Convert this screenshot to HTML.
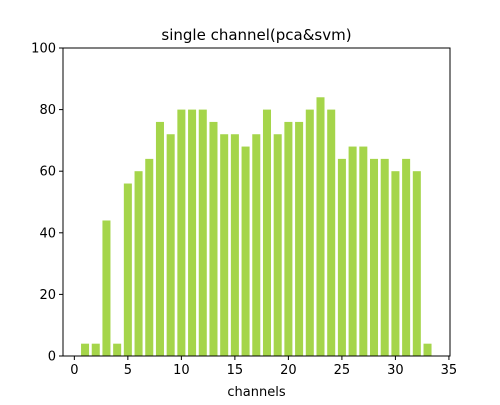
<!DOCTYPE html>
<html><head><meta charset="utf-8"><style>
body{margin:0;background:#fff}
svg text{font-family:"DejaVu Sans","Liberation Sans",sans-serif;fill:#000}
</style></head><body>
<svg id="c" width="500" height="400"></svg>
<script>
const channels=[1,2,3,4,5,6,7,8,9,10,11,12,13,14,15,16,17,18,19,20,21,22,23,24,25,26,27,28,29,30,31,32,33];
const accuracy=[4,4,44,4,56,60,64,76,72,80,80,80,76,72,72,68,72,80,72,76,76,80,84,80,64,68,68,64,64,60,64,60,4];
const xTicks=[0,5,10,15,20,25,30,35];
const yTicks=[0,20,40,60,80,100];
const L=63,R=450,T=48,B=356,xmin=-1.06,xmax=35.1,ymin=0,ymax=100;
const xs=v=>L+(v-xmin)/(xmax-xmin)*(R-L);
const ys=v=>B-(v-ymin)/(ymax-ymin)*(B-T);
const svg=document.getElementById('c');const NS='http://www.w3.org/2000/svg';
function mk(t,a){const e=document.createElementNS(NS,t);for(const k in a)e.setAttribute(k,a[k]);svg.appendChild(e);return e;}
channels.forEach((c,i)=>{
 const r=mk('rect',{x:xs(c-0.375),y:ys(accuracy[i]),width:xs(c+0.375)-xs(c-0.375),height:ys(0)-ys(accuracy[i]),fill:'#a5d54a'});
 
 
});
const ax=mk('rect',{x:L,y:T,width:R-L,height:B-T,fill:'none',stroke:'#000','stroke-width':1});


xTicks.forEach(t=>{
 mk('line',{x1:xs(t),x2:xs(t),y1:B,y2:B+4,stroke:'#000'});
 const e=mk('text',{x:xs(t),y:B+18,'text-anchor':'middle','font-size':13});e.textContent=t;
 
 
});
yTicks.forEach(t=>{
 mk('line',{x1:L-4,x2:L,y1:ys(t),y2:ys(t),stroke:'#000'});
 const e=mk('text',{x:L-7,y:ys(t)+4.5,'text-anchor':'end','font-size':13});e.textContent=t;
 
 
});
const xl=mk('text',{x:(L+R)/2,y:396,'text-anchor':'middle','font-size':13});xl.textContent='channels';


const ti=mk('text',{x:(L+R)/2,y:40,'text-anchor':'middle','font-size':15});ti.textContent='single channel(pca&svm)';


</script>
</body></html>
